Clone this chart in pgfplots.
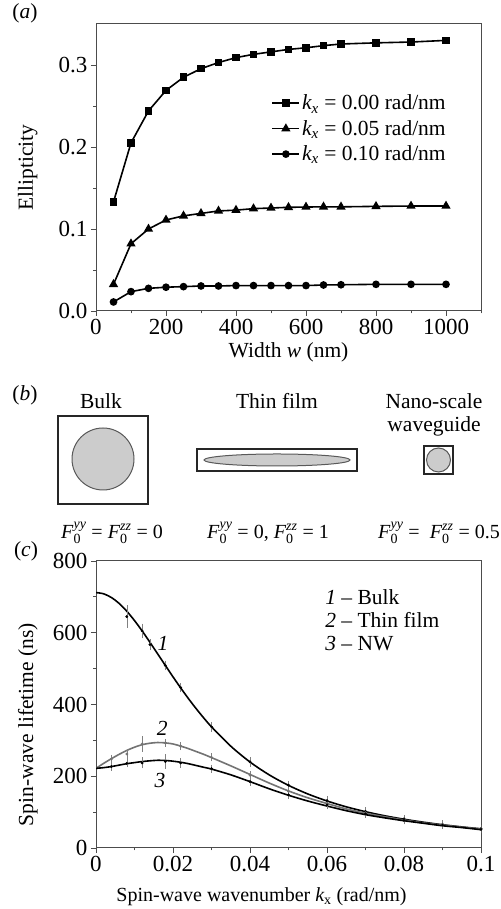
\documentclass[border=0pt]{standalone}
\usepackage{fontspec}
\setmainfont{Liberation Serif}
\usepackage{amsmath}
\usepackage{pgfplots}
\pgfplotsset{compat=1.18}

\definecolor{axgray}{gray}{0.3}
\definecolor{curvegray}{gray}{0.45}
\definecolor{fillgray}{gray}{0.8}
\newcommand\fs{\fontsize{21.5}{24}\selectfont}
\newcommand\fst{\fontsize{23}{26}\selectfont}
\newcommand\fsf{\fontsize{20}{23}\selectfont}

\pgfplotsset{
 myaxis/.style={
  scale only axis, width=385pt, height=287pt,
  axis line style={axgray, line width=1pt},
  every tick/.style={axgray, line width=0.9pt},
  major tick length=5pt, minor tick length=2.5pt,
  tick align=outside, tick pos=left,
  /pgf/number format/assume math mode=true,
  tick label style={font=\fst},
  label style={font=\fs},
 },
 databar/.style={only marks, mark=*, mark size=1.2pt, mark options={fill=#1,draw=#1},
  error bars/.cd, y dir=both, y explicit,
  error bar style={gray, line width=0.6pt},
  error mark options={gray, mark size=3pt, line width=0.6pt}},
}

\begin{document}
\begin{tikzpicture}
\useasboundingbox (0pt,0pt) rectangle (500pt,909pt);

% ---------------- (a)
\begin{axis}[myaxis, anchor=south west, at={(96pt,598pt)},
 xmin=0, xmax=1100, ymin=0, ymax=0.35,
 xtick={0,200,400,600,800,1000}, xticklabels={0,200,400,600,800,1000},
 minor xtick={100,300,500,700,900,1100},
 ytick={0,0.1,0.2,0.3}, yticklabels={0.0,0.1,0.2,0.3},
 minor ytick={0.05,0.15,0.25},
 xlabel={Width \textit{w} (nm)}, ylabel={Ellipticity},
 x label style={at={(axis description cs:0.5,-0.143)}, anchor=center},
 y label style={at={(axis description cs:-0.177,0.5)}, anchor=center},
 legend style={draw=none, fill=none, at={(rel axis cs:0.914,0.76)}, anchor=north east,
   font=\fs, row sep=5pt, inner sep=0pt, legend cell align=left},
 legend image code/.code={\draw[mark repeat=2,mark phase=2] plot coordinates {(0pt,0pt) (13.5pt,0pt) (27pt,0pt)};},
]
\addplot[black, line width=1.6pt, mark=square*, mark size=3pt, mark options={solid}] coordinates {
(50,0.133)(100,0.205)(150,0.244)(200,0.269)(250,0.285)(300,0.2955)(350,0.303)(400,0.309)(450,0.313)(500,0.316)(550,0.319)(600,0.321)(650,0.3236)(700,0.3256)(800,0.327)(900,0.328)(1000,0.330)};
\addlegendentry{$\textit{k}_{\textit{x}}$ = 0.00 rad/nm}
\addplot[black, line width=1.6pt, mark=triangle*, mark size=3.8pt, mark options={solid}] coordinates {
(50,0.0325)(100,0.082)(150,0.100)(200,0.111)(250,0.116)(300,0.119)(350,0.122)(400,0.123)(450,0.1248)(500,0.1256)(550,0.1264)(600,0.1268)(650,0.127)(700,0.127)(800,0.1276)(900,0.128)(1000,0.128)};
\addlegendentry{$\textit{k}_{\textit{x}}$ = 0.05 rad/nm}
\addplot[black, line width=1.6pt, mark=*, mark size=3pt, mark options={solid}] coordinates {
(50,0.011)(100,0.0236)(150,0.0276)(200,0.029)(250,0.0297)(300,0.0305)(350,0.0305)(400,0.031)(450,0.031)(500,0.031)(550,0.031)(600,0.031)(650,0.0317)(700,0.032)(800,0.0325)(900,0.0325)(1000,0.0325)};
\addlegendentry{$\textit{k}_{\textit{x}}$ = 0.10 rad/nm}
\end{axis}

% ---------------- (b)
\node[font=\fs] at (25pt,896pt) {(\textit{a})};
\node[font=\fs] at (25pt,514pt) {(\textit{b})};
\node[font=\fs] at (26pt,358pt) {(\textit{c})};

\node[font=\fs] at (101pt,508pt) {Bulk};
\node[font=\fs] at (277pt,508pt) {Thin film};
\node[font=\fs] at (434pt,508pt) {Nano-scale};
\node[font=\fs] at (434pt,483pt) {waveguide};

\draw[black!85, line width=1.2pt] (58pt,405pt) rectangle (148pt,493pt);
\draw[black!65, line width=1pt, fill=fillgray] (103pt,450pt) circle (31pt);
\draw[black!85, line width=1.2pt] (197pt,438pt) rectangle (357pt,460pt);
\draw[black!65, line width=1pt, fill=fillgray] (277pt,449pt) ellipse (73pt and 6pt);
\draw[black!85, line width=1.2pt] (424pt,435pt) rectangle (453pt,463pt);
\draw[black!65, line width=1pt, fill=fillgray] (438.5pt,449pt) circle (12pt);

\node[font=\fsf] at (112pt,376pt) {\textit{F}$_{\text{0}}^{\textit{yy}}$ = \textit{F}$_{\text{0}}^{\textit{zz}}$ = 0};
\node[font=\fsf] at (268pt,376pt) {\textit{F}$_{\text{0}}^{\textit{yy}}$ = 0, \textit{F}$_{\text{0}}^{\textit{zz}}$ = 1};
\node[font=\fsf] at (439pt,376pt) {\textit{F}$_{\text{0}}^{\textit{yy}}$ = \ \textit{F}$_{\text{0}}^{\textit{zz}}$ = 0.5};

% ---------------- (c)
\begin{axis}[myaxis, anchor=south west, at={(96pt,61pt)},
 xmin=0, xmax=0.1, ymin=0, ymax=800,
 xtick={0,0.02,0.04,0.06,0.08,0.1}, xticklabels={0,0.02,0.04,0.06,0.08,0.1},
 minor xtick={0.01,0.03,0.05,0.07,0.09},
 ytick={0,200,400,600,800}, yticklabels={0,200,400,600,800},
 minor ytick={100,300,500,700},
 xlabel={Spin-wave wavenumber $\textit{k}_{\text{x}}$ (rad/nm)},
 ylabel={Spin-wave lifetime (ns)},
 x label style={at={(axis description cs:0.43,-0.171)}, anchor=center, font=\fontsize{20}{23}\selectfont},
 y label style={at={(axis description cs:-0.177,0.43)}, anchor=center},
]
% curve 1 bulk
\addplot[black, line width=1.6pt, smooth] coordinates {
(0,712)(0.002,708.5)(0.004,698.2)(0.006,681.8)(0.008,660.0)(0.010,634.0)(0.012,604.8)(0.014,573.6)(0.016,541.4)(0.018,509.0)(0.020,477.1)(0.022,446.1)(0.024,416.6)(0.026,388.6)(0.028,362.3)(0.030,337.8)(0.035,283.9)(0.040,239.7)(0.045,203.8)(0.050,174.6)(0.055,150.7)(0.060,131.1)(0.065,114.8)(0.070,101.2)(0.075,89.8)(0.080,80.2)(0.085,72.0)(0.090,64.9)(0.095,58.8)(0.100,53.5)};
% curve 2 thin film
\addplot[curvegray, line width=1.6pt, smooth] coordinates {
(0,222)(0.002,236)(0.004,249)(0.006,261)(0.008,272)(0.010,281)(0.012,288)(0.014,292)(0.016,294)(0.018,293)(0.020,290)(0.022,284)(0.024,277)(0.026,269)(0.028,261)(0.030,252)(0.035,229)(0.040,205)(0.045,181)(0.050,159)(0.055,140)(0.060,124)(0.065,109)(0.070,97)(0.075,87)(0.080,78)(0.085,70)(0.090,64)(0.095,58)(0.100,53)};
% curve 3 NW
\addplot[black, line width=1.6pt, smooth] coordinates {
(0,222)(0.002,224)(0.004,227)(0.006,231)(0.008,235)(0.010,238)(0.012,241)(0.014,243)(0.016,244.5)(0.018,244)(0.020,242)(0.022,239)(0.024,235)(0.026,230)(0.028,225)(0.030,220)(0.035,204)(0.040,185)(0.045,165)(0.050,147)(0.055,131)(0.060,117)(0.065,104)(0.070,93)(0.075,84)(0.080,76)(0.085,69)(0.090,62)(0.095,57)(0.100,51)};
% data points
\addplot[databar=black] coordinates {
(0.008,645)+-(0,23)(0.012,605)+-(0,12)(0.014,567)+-(0,7)(0.018,509)+-(0,5)(0.022,447)+-(0,5)(0.030,338)+-(0,5)(0.040,240)+-(0,5)(0.050,175)+-(0,4)(0.060,132)+-(0,4)(0.070,102)+-(0,3)(0.080,81)+-(0,3)(0.090,66)+-(0,3)(0.100,54)+-(0,3)};
\addplot[databar=curvegray] coordinates {
(0.004,248)+-(0,3)(0.008,262)+-(0,5)(0.012,290)+-(0,13)(0.018,293)+-(0,3)(0.022,284)+-(0,3)(0.030,253)+-(0,3)(0.040,203)+-(0,3)(0.050,158)+-(0,3)(0.060,124)+-(0,3)(0.070,98)+-(0,3)(0.080,78)+-(0,3)(0.090,65)+-(0,3)(0.100,54)+-(0,3)};
\addplot[databar=black] coordinates {
(0.004,227)+-(0,3)(0.008,236)+-(0,3)(0.012,237)+-(0,7)(0.018,241)+-(0,12)(0.022,237)+-(0,5)(0.030,221)+-(0,3)(0.040,185)+-(0,3)(0.050,148)+-(0,3)(0.060,120)+-(0,3)(0.070,95)+-(0,3)(0.080,77)+-(0,3)(0.090,64)+-(0,3)(0.100,52)+-(0,3)};

\node[font=\fs\itshape] at (axis cs:0.0174,571) {1};
\node[font=\fs\itshape] at (axis cs:0.0172,334) {2};
\node[font=\fs\itshape] at (axis cs:0.0166,189) {3};
\node[font=\fs, anchor=west, inner sep=0pt] at (axis cs:0.0595,699) {\textit{1} -- Bulk};
\node[font=\fs, anchor=west, inner sep=0pt] at (axis cs:0.0595,635) {\textit{2} -- Thin film};
\node[font=\fs, anchor=west, inner sep=0pt] at (axis cs:0.0595,571) {\textit{3} -- NW};
\end{axis}
\end{tikzpicture}
\end{document}
